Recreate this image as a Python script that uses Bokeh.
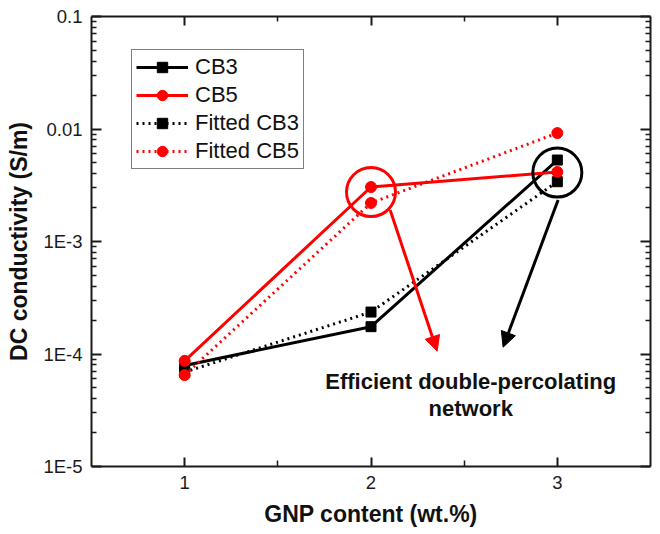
from bokeh.plotting import figure
from bokeh.models import (FixedTicker, LinearAxis, LogAxis, Legend, LegendItem,
                          Arrow, NormalHead, ColumnDataSource)
from bokeh.embed import file_html
from bokeh.resources import INLINE
from bokeh.core.properties import value

# ---------------- data ----------------
gnp = [1, 2, 3]
cb3 = [7.9e-5, 1.75e-4, 5.3e-3]
cb5 = [8.7e-5, 3.05e-3, 4.15e-3]
fit_cb3 = [6.9e-5, 2.36e-4, 3.4e-3]
fit_cb5 = [6.5e-5, 2.2e-3, 9.2e-3]

legend_labels = ["CB3", "CB5", "Fitted CB3", "Fitted CB5"]

x_ticks = [1, 2, 3]
x_minor = [1.5, 2.5]
y_ticks = [1e-5, 1e-4, 1e-3, 1e-2, 1e-1]
y_tick_labels = ["1E-5", "1E-4", "1E-3", "0.01", "0.1"]
y_minor = [k * d for d in [1e-5, 1e-4, 1e-3, 1e-2] for k in range(2, 10)]

x_title = "GNP content (wt.%)"
y_title = "DC conductivity (S/m)"

# annotations
note_lines = ["Efficient double-percolating", "network"]
note_x = [2.535, 2.535]
note_y = [5.75e-5, 3.25e-5]
ring_x = [2, 3]
ring_y = [2.75e-3, 4.1e-3]
ring_colors = ["#ff0000", "#000000"]
arrow_start_x = [2.103, 3.004]
arrow_start_y = [1.9e-3, 2.34e-3]
arrow_end_x = [2.355, 2.709]
arrow_end_y = [1.06e-4, 1.15e-4]
arrow_colors = ["#ff0000", "#000000"]

FONT = "Liberation Sans"
RED = "#ff0000"
BLACK = "#000000"

p = figure(width=660, height=534, y_axis_type="log",
           x_range=(0.5, 3.5), y_range=(1e-5, 0.1),
           output_backend="svg", toolbar_location=None,
           min_border_left=91, min_border_right=10,
           min_border_top=16, min_border_bottom=68)
p.grid.visible = False
p.outline_line_color = None
p.background_fill_color = "white"
p.border_fill_color = "white"

xt = FixedTicker(ticks=x_ticks, minor_ticks=x_minor)
yt = FixedTicker(ticks=y_ticks, minor_ticks=y_minor)


def style_axis(ax, major_len, minor_len):
    ax.axis_line_width = 2
    ax.axis_line_color = "#1a1a1a"
    ax.major_tick_in = major_len
    ax.major_tick_out = 0
    ax.minor_tick_in = minor_len
    ax.minor_tick_out = 0
    ax.major_tick_line_width = 2
    ax.minor_tick_line_width = 1.5
    ax.major_tick_line_color = "#1a1a1a"
    ax.minor_tick_line_color = "#1a1a1a"


ax_b = p.below[0]
ax_l = p.left[0]
ax_b.ticker = xt
ax_l.ticker = yt
style_axis(ax_b, 9, 6)
style_axis(ax_l, 10, 5)
ax_l.major_label_overrides = dict(zip(y_ticks, y_tick_labels))
for ax in (ax_b, ax_l):
    ax.major_label_text_font = FONT
    ax.major_label_text_font_size = "18.5px"
    ax.major_label_text_color = "#1a1a1a"
    ax.axis_label_text_font = FONT
    ax.axis_label_text_font_size = "23px"
    ax.axis_label_text_font_style = "bold"
    ax.axis_label_text_color = "#111111"
ax_b.major_label_standoff = 9
ax_l.major_label_standoff = 9
ax_b.axis_label = x_title
ax_l.axis_label = y_title
ax_b.axis_label_standoff = 9
ax_l.axis_label_standoff = 8

top = LinearAxis(ticker=xt, major_label_text_font_size="2px",
                 major_label_text_alpha=0, major_label_standoff=0)
style_axis(top, 9, 5)
p.add_layout(top, "above")
right = LogAxis(ticker=yt, major_label_text_font_size="2px",
                major_label_text_alpha=0, major_label_standoff=0)
style_axis(right, 10, 5)
p.add_layout(right, "right")

# ---------------- series ----------------
series = [
    (cb3, BLACK, "solid", "square", 10),
    (fit_cb3, BLACK, "2 4", "square", 10),
    (cb5, RED, "solid", "circle", 11),
    (fit_cb5, RED, "2 4", "circle", 11),
]
order_labels = [legend_labels[0], legend_labels[2], legend_labels[1], legend_labels[3]]
items = {}
for (ys, col, dash, mk, sz), lab in zip(series, order_labels):
    src = ColumnDataSource(dict(x=gnp, y=ys))
    lr = p.line("x", "y", source=src, line_color=col, line_width=3, line_dash=dash)
    sr = p.scatter("x", "y", source=src, marker=mk, size=sz,
                   fill_color=col, line_color=col)
    items[lab] = LegendItem(label=lab, renderers=[lr, sr])

legend = Legend(items=[items[l] for l in legend_labels], location=(40, 297),
                label_text_font=FONT, label_text_font_size="22px",
                label_text_color="#111111",
                glyph_width=52, glyph_height=26, spacing=2, padding=4, margin=0,
                label_standoff=7, border_line_color=BLACK, border_line_width=1,
                background_fill_color="white", background_fill_alpha=1)
p.add_layout(legend)

# ---------------- annotations ----------------
p.scatter(ring_x, ring_y, marker="circle", size=49, fill_color=None,
          line_color=ring_colors, line_width=3)
for i in range(2):
    p.add_layout(Arrow(end=NormalHead(size=15, fill_color=arrow_colors[i],
                                      line_color=arrow_colors[i], line_width=1),
                       x_start=arrow_start_x[i], y_start=arrow_start_y[i],
                       x_end=arrow_end_x[i], y_end=arrow_end_y[i],
                       line_color=arrow_colors[i], line_width=3))
p.text(note_x, note_y, text=note_lines, text_font=value(FONT),
       text_font_style="bold", text_font_size="22px", text_color="#111111",
       text_align="center", text_baseline="alphabetic")

open("out.html", "w").write(file_html(p, INLINE))
